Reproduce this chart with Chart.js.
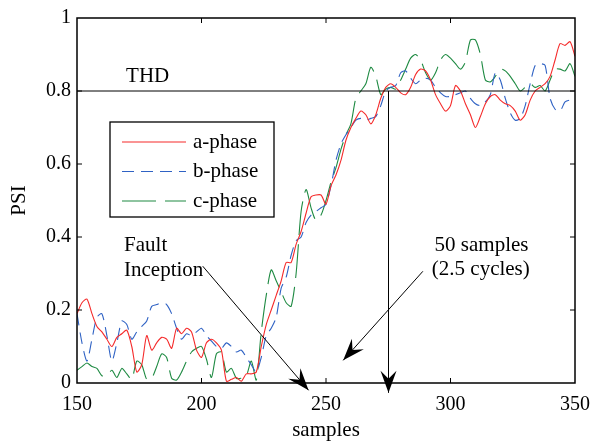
<!DOCTYPE html>
<html>
<head>
<meta charset="utf-8">
<script src="https://cdn.jsdelivr.net/npm/chart.js@4.4.1/dist/chart.umd.min.js"></script>
<style>
  html, body { margin: 0; padding: 0; background: #fff; }
  canvas { display: block; }
</style>
</head>
<body>
<canvas id="psi" width="600" height="441"></canvas>
<script>
// sample index (every 2nd sample)
const samples = [150,152,154,156,158,160,162,164,166,168,170,172,174,176,178,180,182,184,186,188,
  190,192,194,196,198,200,202,204,206,208,210,212,214,216,218,220,222,224,226,228,
  230,232,234,236,238,240,242,244,246,248,250,252,254,256,258,260,262,264,266,268,
  270,272,274,276,278,280,282,284,286,288,290,292,294,296,298,300,302,304,306,308,
  310,312,314,316,318,320,322,324,326,328,330,332,334,336,338,340,342,344,346,348,350];

const aPhase = [0.19,0.22,0.23,0.19,0.155,0.14,0.12,0.10,0.125,0.135,0.145,0.10,0.03,0.05,0.13,0.09,0.11,0.125,0.12,0.095,
  0.15,0.135,0.15,0.14,0.09,0.07,0.11,0.12,0.11,0.09,0.005,0.01,0.015,0.005,0.025,0.025,0.03,0.10,0.16,0.20,
  0.24,0.28,0.33,0.33,0.38,0.415,0.465,0.51,0.515,0.515,0.49,0.54,0.57,0.61,0.665,0.70,0.725,0.745,0.735,0.71,
  0.735,0.78,0.81,0.82,0.81,0.795,0.79,0.81,0.845,0.86,0.855,0.83,0.79,0.765,0.745,0.76,0.815,0.80,0.765,0.735,
  0.70,0.73,0.765,0.785,0.79,0.775,0.765,0.76,0.745,0.72,0.735,0.775,0.80,0.81,0.82,0.84,0.885,0.93,0.925,0.935,0.895];

const bPhase = [0.19,0.11,0.06,0.12,0.18,0.19,0.13,0.06,0.11,0.17,0.16,0.12,0.14,0.155,0.17,0.21,0.215,0.22,0.215,0.19,
  0.15,0.12,0.135,0.13,0.14,0.15,0.13,0.115,0.10,0.095,0.11,0.10,0.085,0.09,0.07,0.05,0.03,0.07,0.13,0.15,
  0.18,0.26,0.29,0.35,0.39,0.40,0.44,0.46,0.47,0.48,0.49,0.54,0.61,0.655,0.68,0.70,0.72,0.725,0.72,0.725,
  0.73,0.76,0.80,0.81,0.815,0.85,0.855,0.835,0.82,0.83,0.835,0.83,0.81,0.795,0.785,0.785,0.79,0.795,0.80,0.78,
  0.765,0.76,0.77,0.79,0.85,0.83,0.78,0.74,0.72,0.725,0.76,0.82,0.87,0.875,0.87,0.78,0.75,0.745,0.77,0.775,0.77];

const cPhase = [0.035,0.045,0.055,0.045,0.04,0.02,0.02,0.035,0.015,0.04,0.025,0.01,0.06,0.05,0.01,0.013,0.045,0.08,0.07,0.013,
  0.008,0.03,0.06,0.085,0.095,0.10,0.065,0.015,0.08,0.085,0.03,0.04,0.013,0.013,0.02,0.06,0.008,0.14,0.24,0.31,
  0.28,0.25,0.22,0.21,0.30,0.47,0.53,0.48,0.445,0.46,0.50,0.55,0.59,0.64,0.68,0.71,0.78,0.80,0.82,0.865,
  0.84,0.79,0.805,0.81,0.805,0.83,0.86,0.89,0.90,0.885,0.85,0.83,0.85,0.885,0.90,0.89,0.875,0.86,0.88,0.94,
  0.94,0.90,0.83,0.825,0.84,0.86,0.855,0.84,0.82,0.80,0.81,0.82,0.81,0.815,0.80,0.83,0.86,0.86,0.855,0.875,0.84];

const xTicks = [150, 200, 250, 300, 350];
const yTicks = [0, 0.2, 0.4, 0.6, 0.8, 1];
const yTickLabels = ['0', '0.2', '0.4', '0.6', '0.8', '1'];
const thdLevel = 0.8;
const detectSample = 275;

const SERIF = "'Liberation Serif', serif";
Chart.defaults.font.family = SERIF;
Chart.defaults.color = '#000';

function series(vals) {
  return vals.map((v, i) => ({ x: samples[i], y: v }));
}

function arrow(ctx, x1, y1, x2, y2) {
  ctx.beginPath();
  ctx.moveTo(x1, y1);
  ctx.lineTo(x2, y2);
  ctx.stroke();
  const ang = Math.atan2(y2 - y1, x2 - x1);
  ctx.save();
  ctx.translate(x2, y2);
  ctx.rotate(ang);
  ctx.beginPath();
  ctx.moveTo(0, 0);
  ctx.lineTo(-22, -8);
  ctx.lineTo(-14, 0);
  ctx.lineTo(-22, 8);
  ctx.closePath();
  ctx.fill();
  ctx.restore();
}

const decor = {
  id: 'decor',
  afterDatasetsDraw(chart) {
    const { ctx, chartArea: a, scales: { x, y } } = chart;
    ctx.save();
    ctx.strokeStyle = '#000';
    ctx.fillStyle = '#000';
    ctx.lineWidth = 1;

    // THD level line
    const yThd = y.getPixelForValue(thdLevel);
    ctx.beginPath();
    ctx.moveTo(a.left, yThd);
    ctx.lineTo(a.right, yThd);
    ctx.stroke();

    // box + inward ticks
    ctx.lineWidth = 1.5;
    ctx.strokeRect(a.left, a.top, a.right - a.left, a.bottom - a.top);
    ctx.lineWidth = 1;
    ctx.beginPath();
    xTicks.slice(1, -1).forEach(v => {
      const px = x.getPixelForValue(v);
      ctx.moveTo(px, a.bottom); ctx.lineTo(px, a.bottom - 5);
      ctx.moveTo(px, a.top); ctx.lineTo(px, a.top + 5);
    });
    yTicks.slice(1, -1).forEach(v => {
      const py = y.getPixelForValue(v);
      ctx.moveTo(a.left, py); ctx.lineTo(a.left + 5, py);
      ctx.moveTo(a.right, py); ctx.lineTo(a.right - 5, py);
    });
    ctx.stroke();

    // annotations
    ctx.font = '21px ' + SERIF;
    ctx.textAlign = 'left';
    ctx.textBaseline = 'middle';
    ctx.fillText('THD', x.getPixelForValue(169.7), y.getPixelForValue(0.84));
    ctx.fillText('Fault', x.getPixelForValue(168.9), y.getPixelForValue(0.378));
    ctx.fillText('Inception', x.getPixelForValue(168.9), y.getPixelForValue(0.308));
    ctx.fillText('50 samples', x.getPixelForValue(293.6), y.getPixelForValue(0.378));
    ctx.fillText('(2.5 cycles)', x.getPixelForValue(292.5), y.getPixelForValue(0.31));

    ctx.lineWidth = 1;
    arrow(ctx, x.getPixelForValue(200.5), y.getPixelForValue(0.32),
               x.getPixelForValue(243), y.getPixelForValue(-0.02));
    arrow(ctx, x.getPixelForValue(288.9), y.getPixelForValue(0.306),
               x.getPixelForValue(256.9), y.getPixelForValue(0.062));
    const vx = Math.round(x.getPixelForValue(detectSample)) + 0.5;
    arrow(ctx, vx, yThd, vx, y.getPixelForValue(-0.027));

    // legend box
    const lx = a.left + 33, ly = a.top + 104, lw = 164, lh = 95;
    ctx.fillStyle = '#fff';
    ctx.fillRect(lx, ly, lw, lh);
    ctx.lineWidth = 1.3;
    ctx.strokeStyle = '#000';
    ctx.strokeRect(lx, ly, lw, lh);
    chart.data.datasets.forEach((ds, i) => {
      const cy = ly + 20 + i * 29.5;
      ctx.save();
      ctx.strokeStyle = ds.borderColor;
      ctx.lineWidth = ds.borderWidth;
      ctx.setLineDash(ds.borderDash || []);
      ctx.beginPath();
      ctx.moveTo(lx + 12, cy);
      ctx.lineTo(lx + 76, cy);
      ctx.stroke();
      ctx.restore();
      ctx.fillStyle = '#000';
      ctx.fillText(ds.label, lx + 83, cy);
    });
    ctx.restore();
  }
};

new Chart(document.getElementById('psi'), {
  type: 'line',
  data: {
    datasets: [
      { label: 'a-phase', data: series(aPhase), borderColor: '#f52a2a', borderWidth: 1.1, tension: 0.25 },
      { label: 'b-phase', data: series(bPhase), borderColor: '#2f62c4', borderWidth: 1.1, borderDash: [12, 7], tension: 0.25 },
      { label: 'c-phase', data: series(cPhase), borderColor: '#1e8a42', borderWidth: 1.1, borderDash: [34, 9], tension: 0.25 }
    ]
  },
  options: {
    responsive: false,
    animation: false,
    events: [],
    elements: { point: { radius: 0 } },
    layout: { padding: { top: 14, right: 16, left: 0, bottom: 0 } },
    plugins: { legend: { display: false }, tooltip: { enabled: false } },
    scales: {
      x: {
        type: 'linear',
        min: 150, max: 350,
        afterBuildTicks: s => { s.ticks = xTicks.map(v => ({ value: v })); },
        afterFit: s => { s.height = 58; },
        grid: { display: false, drawTicks: false },
        border: { display: false },
        ticks: { color: '#000', padding: 10, maxRotation: 0, font: { family: SERIF, size: 20 },
                 callback: v => String(v) },
        title: { display: true, text: 'samples', color: '#000', padding: { top: 0, bottom: 0 },
                 font: { family: SERIF, size: 21, lineHeight: 1 } }
      },
      y: {
        min: 0, max: 1,
        afterBuildTicks: s => { s.ticks = yTicks.map(v => ({ value: v })); },
        afterFit: s => { s.width = 77; },
        grid: { display: false, drawTicks: false },
        border: { display: false },
        ticks: { color: '#000', padding: 6, font: { family: SERIF, size: 20 },
                 callback: (v, i) => yTickLabels[i] },
        title: { display: true, text: 'PSI', color: '#000', padding: { top: 9, bottom: 0 },
                 font: { family: SERIF, size: 21, lineHeight: 1 } }
      }
    }
  },
  plugins: [decor]
});
</script>
</body>
</html>
